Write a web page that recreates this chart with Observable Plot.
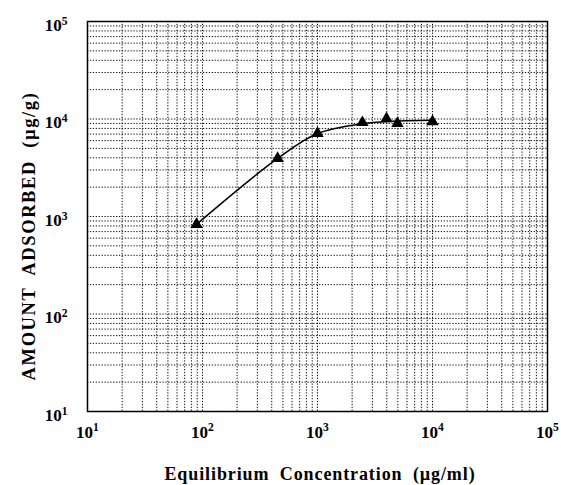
<!DOCTYPE html>
<html>
<head>
<meta charset="utf-8">
<script src="https://cdn.jsdelivr.net/npm/d3@7"></script>
<script src="https://cdn.jsdelivr.net/npm/@observablehq/plot@0.6"></script>
<style>
  html, body { margin: 0; padding: 0; background: #fff; }
</style>
</head>
<body>
<div id="chart"></div>
<script>
// Measured points (equilibrium concentration µg/ml, amount adsorbed µg/g)
const concentration = [88.7, 450, 1000, 2460, 3980, 4960, 10000];
const adsorbed      = [830, 3940, 7100, 9200, 10100, 9000, 9400];

// Drawn curve
const curveConc     = [88.7, 450, 1000, 2460, 3980, 4960, 10000];
const curveAds      = [830, 3940, 7100, 8950, 9400, 9550, 9700];

// Decade tick labels (exponents of 10)
const xTickExp = [1, 2, 3, 4, 5];
const yTickExp = [1, 2, 3, 4, 5];
const xTitle = "Equilibrium Concentration (\u00b5g/ml)";
const yTitle = "AMOUNT ADSORBED (\u00b5g/g)";

const points = concentration.map((c, i) => ({c, a: adsorbed[i]}));
const curve = curveConc.map((c, i) => ({c, a: curveAds[i]}));
const xMajor = xTickExp.map(e => Math.pow(10, e));
const yMajor = yTickExp.map(e => Math.pow(10, e));
const minorOf = majors => majors.slice(0, -1).flatMap(m => d3.range(1, 10).map(k => k * m));
const xGrid = minorOf(xMajor).concat([xMajor[xMajor.length - 1]]);
const yGrid = minorOf(yMajor).concat([yMajor[yMajor.length - 1]]);
const fmt = v => "10|" + Math.round(Math.log10(v));
const FONT = "'Liberation Serif', 'Times New Roman', serif";

const chart = Plot.plot({
  width: 561,
  height: 485,
  marginLeft: 87,
  marginRight: 14,
  marginTop: 21,
  marginBottom: 74,
  style: {fontFamily: FONT, background: "#fff"},
  x: {type: "log", domain: [10, 1e5]},
  y: {type: "log", domain: [10, 1e5]},
  marks: [
    Plot.gridX(xGrid, {stroke: "#111", strokeOpacity: 1, strokeWidth: 1, strokeDasharray: "1.3,1.6"}),
    Plot.gridY(yGrid, {stroke: "#111", strokeOpacity: 1, strokeWidth: 1, strokeDasharray: "1.3,1.6"}),
    Plot.frame({stroke: "#000", strokeWidth: 1.5}),
    Plot.axisX({ticks: xMajor, tickFormat: fmt, tickSize: 0, tickPadding: 14,
      label: xTitle, labelAnchor: "center", labelOffset: 68, labelArrow: false}),
    Plot.axisY({ticks: yMajor, tickFormat: fmt, tickSize: 0, tickPadding: 20, dy: 4,
      label: yTitle, labelAnchor: "center", labelOffset: 66, labelArrow: false}),
    Plot.line(curve, {x: "c", y: "a", curve: "catmull-rom", stroke: "#000", strokeWidth: 1.5}),
    Plot.dot(points, {x: "c", y: "a", symbol: "triangle", r: 4.6, fill: "#000", stroke: "none"})
  ]
});

let xTitleNode = null, yTitleNode = null;
d3.select(chart).selectAll("text").each(function() {
  const t = this.textContent;
  const sel = d3.select(this);
  const m = /^10\|(\d)$/.exec(t);
  if (m) {
    sel.text("10");
    sel.append("tspan").attr("dy", "-0.55em").attr("font-size", "0.68em").text(m[1]);
    sel.style("font-family", FONT).style("font-size", "17px").style("font-weight", "bold");
  } else if (t.startsWith("Equilibrium")) {
    sel.text(xTitle);
    sel.style("font-family", FONT).style("font-size", "18px").style("font-weight", "bold")
       .style("word-spacing", "5px").style("letter-spacing", "0.9px");
    xTitleNode = this;
  } else if (t.startsWith("AMOUNT")) {
    sel.text(yTitle);
    sel.style("font-family", FONT).style("font-size", "18.5px").style("font-weight", "bold")
       .style("word-spacing", "6px").style("letter-spacing", "1.6px");
    yTitleNode = this;
  }
});

document.getElementById("chart").appendChild(chart);

// centre the titles where the reference has them
const svgRect = chart.getBoundingClientRect();
if (yTitleNode) {
  const r = yTitleNode.getBoundingClientRect();
  const cy = r.top - svgRect.top + r.height / 2;
  const d = 236 - cy;
  const tr = yTitleNode.getAttribute("transform") || "";
  yTitleNode.setAttribute("transform", tr + ` translate(${-d},0)`);
}
if (xTitleNode) {
  const r = xTitleNode.getBoundingClientRect();
  const cx = r.left - svgRect.left + r.width / 2;
  const d = 320 - cx;
  const tr = xTitleNode.getAttribute("transform") || "";
  xTitleNode.setAttribute("transform", tr + ` translate(${d},0)`);
}
</script>
</body>
</html>
